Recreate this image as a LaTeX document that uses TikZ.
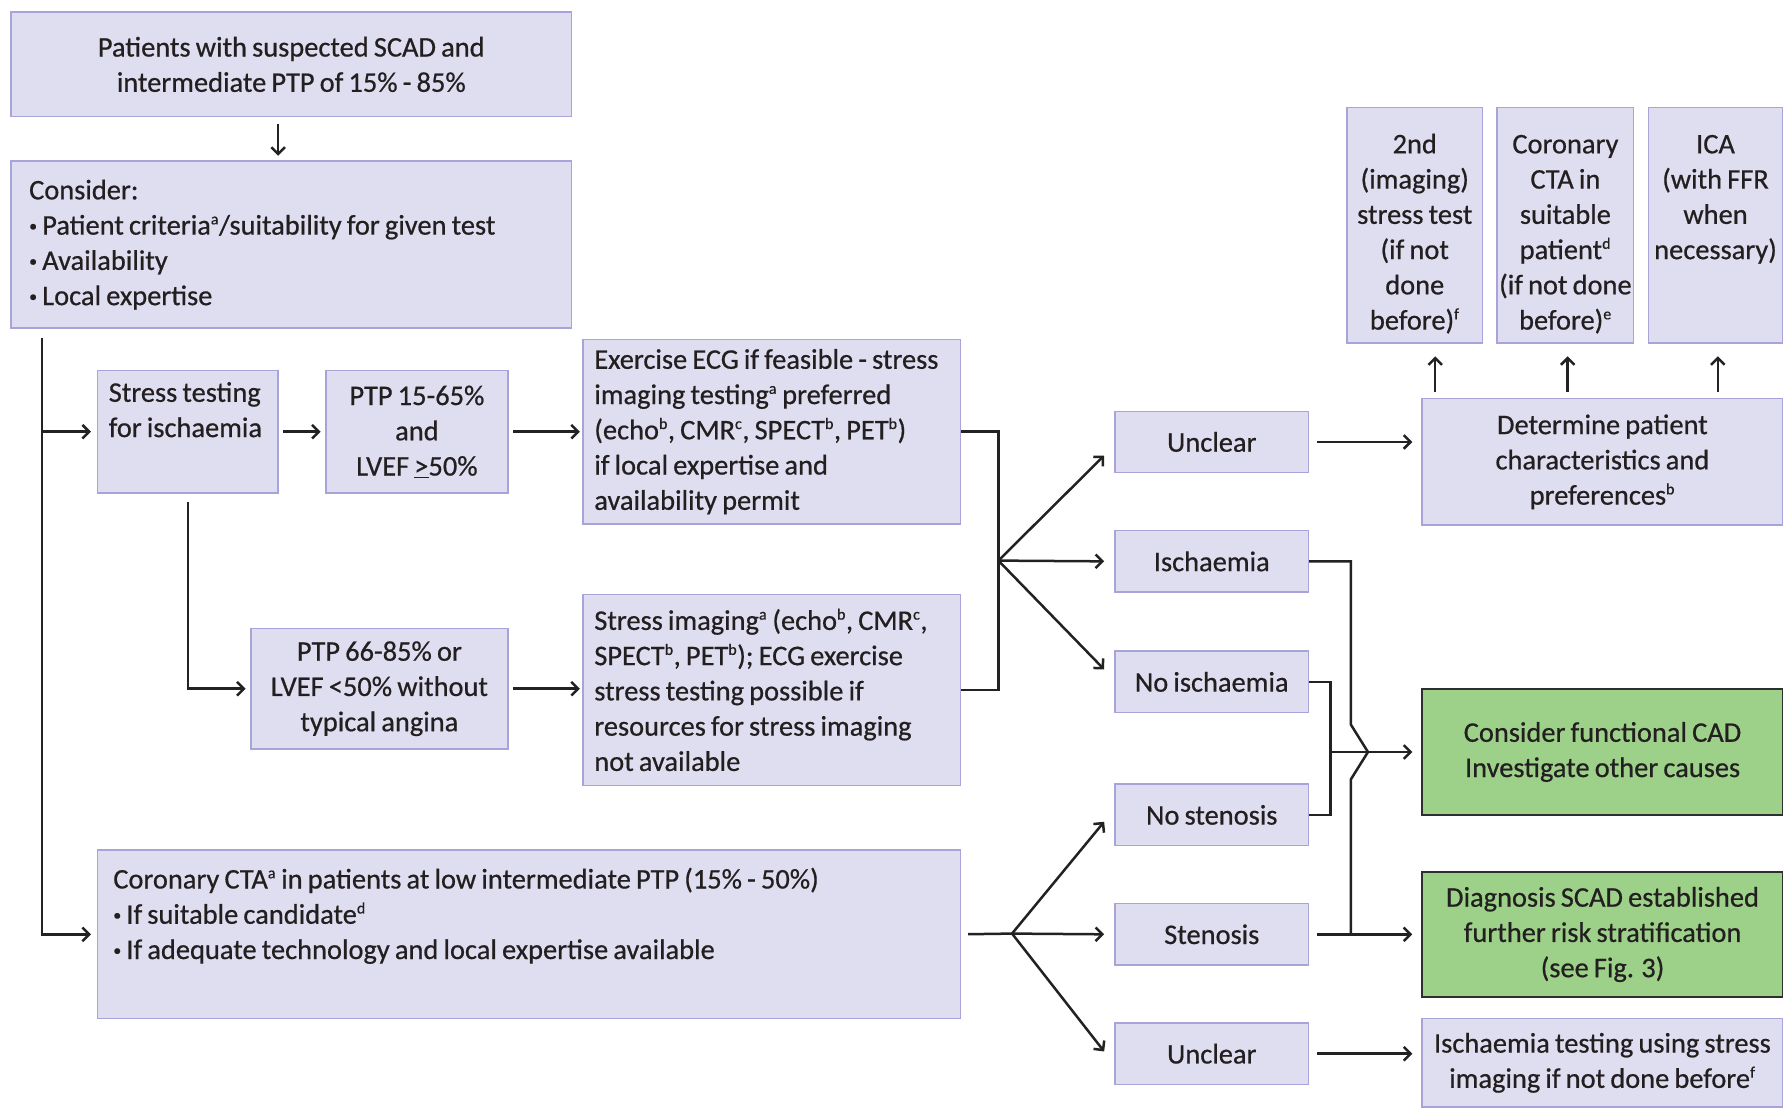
\documentclass[tikz,border=0pt]{standalone}
\usepackage{fontspec}
\setmainfont{Carlito}[FakeBold=0.6, WordSpace=0.8]
\usetikzlibrary{arrows.meta,calc}
\definecolor{boxfill}{HTML}{DFDEF0}
\definecolor{boxline}{HTML}{A8A3D8}
\definecolor{greenfill}{HTML}{9DD189}
\definecolor{greenline}{HTML}{2E2E2E}
\definecolor{txt}{HTML}{231F20}
\definecolor{wirecol}{HTML}{222222}
\newcommand{\sps}[1]{\textsuperscript{\fontsize{14}{14}\selectfont #1}}
\newcommand{\bul}{\raisebox{0.25ex}{\fontsize{14}{14}\selectfont\textbullet}\ }
\newcommand{\lbox}[3]{\parbox[c][#2][c]{#1}{\raggedright #3}}
\tikzset{
  box/.style={draw=boxline, fill=boxfill, line width=1.3pt, inner sep=0pt, anchor=north west,
    text=txt, font=\fontsize{25}{31}\selectfont},
  gbox/.style={box, draw=greenline, fill=greenfill, line width=1.6pt},
  sbox/.style={box, minimum width=170pt, minimum height=54pt, align=center},
  wire/.style={draw=wirecol, line width=2.2pt},
  arr/.style={wire, -{Straight Barb[length=6pt,width=12pt]}},
}
\begin{document}
\begin{tikzpicture}[x=1pt,y=-1pt]
\useasboundingbox (0,0) rectangle (1568,975);

% left column
\node[box, minimum width=493pt, minimum height=92pt, align=center] (top) at (9,10)
  {Patients with suspected SCAD and\\intermediate PTP of 15\% - 85\%};
\node[box, inner xsep=16pt] (consd) at (9,141)
  {\lbox{461pt}{147pt}{Consider:\\\bul Patient criteria\sps{a}/suitability for given test\\\bul Availability\\\bul Local expertise}};
\node[box, inner xsep=10pt, inner ysep=6pt] (st) at (85,325)
  {\parbox[c][96pt][t]{139pt}{\raggedright\strut Stress testing\\for ischaemia}};
\node[box, minimum width=160pt, minimum height=108pt, align=center] (p1) at (286,325)
  {PTP 15-65\%\\and\\LVEF \underline{>}50\%};
\node[box, inner xsep=10pt] (ex) at (512,298)
  {\lbox{312pt}{162pt}{\mbox{Exercise ECG if feasible - stress}\\imaging testing\sps{a} preferred\\(echo\sps{b}, CMR\sps{c}, SPECT\sps{b}, PET\sps{b})\\if local expertise and\\availability permit}};
\node[box, minimum width=226pt, minimum height=106pt, align=center] (p2) at (220,552)
  {PTP 66-85\% or\\LVEF <50\% without\\typical angina};
\node[box, inner xsep=10pt] (si) at (512,522)
  {\lbox{312pt}{168pt}{\mbox{Stress imaging\sps{a} (echo\sps{b}, CMR\sps{c},}\\SPECT\sps{b}, PET\sps{b}); ECG exercise\\stress testing possible if\\resources for stress imaging\\not available}};
\node[box, inner xsep=14pt, inner ysep=12pt] (cta) at (85,747)
  {\parbox[c][124pt][t]{731pt}{\raggedright\strut Coronary CTA\sps{a} in patients at low intermediate PTP (15\% - 50\%)\\\bul If suitable candidate\sps{d}\\\bul If adequate technology and local expertise available}};

% result column
\node[sbox] (unc1) at (980,361) {Unclear};
\node[sbox] (isch) at (980,466) {Ischaemia};
\node[sbox] (noisch) at (980,572) {No ischaemia};
\node[sbox] (nosten) at (980,689) {No stenosis};
\node[sbox] (sten) at (980,794) {Stenosis};
\node[sbox] (unc2) at (980,899) {Unclear};

% right column
\node[box, inner xsep=0pt, inner ysep=18.5pt] (t1) at (1184,94)
  {\parbox[c][170pt][t]{119pt}{\centering\strut 2nd\\(imaging)\\stress test\\(if not\\done\\before)\sps{f}}};
\node[box, inner xsep=0pt, inner ysep=18.5pt] (t2) at (1316,94)
  {\parbox[c][170pt][t]{120pt}{\centering\strut Coronary\\CTA in\\suitable\\patient\sps{d}\\\makebox[120pt]{(if not done}\\before)\sps{e}}};
\node[box, inner xsep=0pt, inner ysep=18.5pt] (t3) at (1449,94)
  {\parbox[c][170pt][t]{118pt}{\centering\strut ICA\\(with FFR\\when\\necessary)}};
\node[box, minimum width=317pt, minimum height=111pt, align=center] (det) at (1250,350)
  {Determine patient\\characteristics and\\preferences\sps{b}};
\node[gbox, minimum width=317pt, minimum height=111pt, align=center] (func) at (1250,605)
  {Consider functional CAD\\Investigate other causes};
\node[gbox, minimum width=317pt, minimum height=110pt, align=center] (diag) at (1250,766)
  {Diagnosis SCAD established\\further risk stratification\\(see Fig. 3)};
\node[box, minimum width=317pt, minimum height=78pt, align=center] (isct) at (1250,895)
  {Ischaemia testing using stress\\imaging if not done before\sps{f}};

% connectors
\draw[arr, shorten <=6pt, shorten >=4pt] ([xshift=-11.5pt]top.south) -- ([xshift=-11.5pt]consd.north);
\coordinate (tr) at (37,297);
\draw[arr, shorten >=5pt] (tr) |- (cta.west);
\draw[arr, shorten >=5pt] (tr |- st.west) -- (st.west);
\draw[arr, shorten <=4pt, shorten >=4pt] (st.east) -- (p1.west);
\draw[arr, shorten <=4pt, shorten >=2pt] (p1.east) -- (ex.west |- p1.east);
\draw[arr, shorten <=7pt, shorten >=4pt] (st.south) |- (p2.west);
\draw[arr, shorten <=4pt, shorten >=2pt] (p2.east) -- (si.west |- p2.east);

\coordinate (j1) at (878,493);
\draw[wire] (ex.east) -| (j1) |- (si.east);
\draw[arr] (j1) -- ([shift={(-9,12)}]unc1.west);
\draw[arr] (j1) -- ([xshift=-9pt]isch.west);
\draw[arr] (j1) -- ([shift={(-9,-11)}]noisch.west);

\coordinate (j2) at (890,821);
\draw[wire, shorten <=6pt] (cta.east) -- (j2);
\draw[arr] (j2) -- ([shift={(-9,6)}]nosten.west);
\draw[arr] (j2) -- ([xshift=-9pt]sten.west);
\draw[arr] (j2) -- ([shift={(-9,-2)}]unc2.west);

\draw[arr, shorten <=7pt, shorten >=8pt] (unc1.east) -- (unc1.east -| det.west);
\coordinate (a1) at ([xshift=18pt]t1.south);
\coordinate (a2) at ([xshift=2pt]t2.south);
\coordinate (a3) at ([xshift=2pt]t3.south);
\draw[arr, shorten <=5pt, shorten >=11pt] (a1 |- det.north) -- (a1);
\draw[arr, shorten <=5pt, shorten >=11pt] (a2 |- det.north) -- (a2);
\draw[arr, shorten <=5pt, shorten >=11pt] (a3 |- det.north) -- (a3);

\coordinate (vx) at (1188,0);
\coordinate (vy) at (1170,0);
\coordinate (hp) at (vx |- func.west);
\draw[wire] (isch.east) -- (isch.east -| vx) -- ($(hp)+(0,-24)$) -- ($(hp)+(15,0)$) -- ($(hp)+(0,24)$) -- (sten.east -| vx);
\draw[arr, shorten <=7pt, shorten >=8pt] (sten.east) -- (sten.east -| diag.west);
\draw[wire] (noisch.east) -| (vy |- nosten.east) -- (nosten.east);
\draw[arr, shorten >=8pt] (vy |- func.west) -- (func.west);
\draw[arr, shorten <=7pt, shorten >=8pt] (unc2.east) -- (unc2.east -| isct.west);
\end{tikzpicture}
\end{document}
